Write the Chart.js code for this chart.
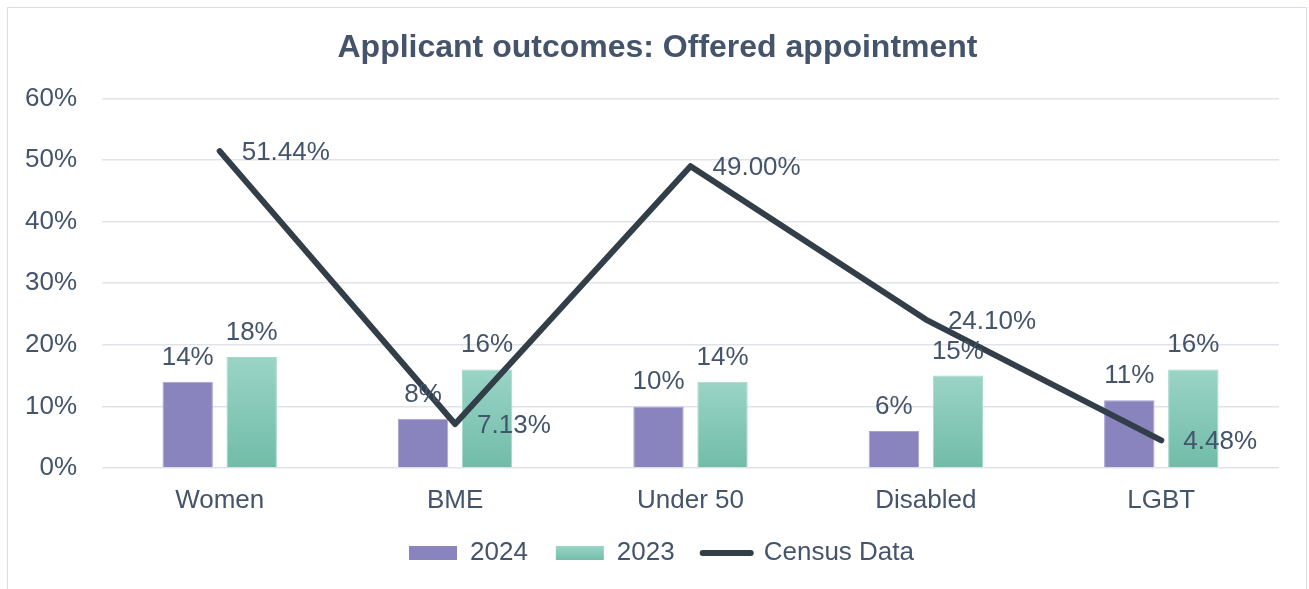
<!DOCTYPE html>
<html>
<head>
<meta charset="utf-8">
<script src="https://cdn.jsdelivr.net/npm/chart.js@4.4.1/dist/chart.umd.min.js"></script>
<style>
  html, body { margin: 0; padding: 0; background: #fff; }
  #wrap { position: relative; width: 1309px; height: 589px; overflow: hidden; }
  #frame { position: absolute; left: 7px; top: 7px; width: 1300px; height: 620px; border: 1.5px solid #D9DEE4; box-sizing: border-box; }
  canvas { position: absolute; left: 0; top: 0; }
</style>
</head>
<body>
<div id="wrap">
  <div id="frame"></div>
  <canvas id="chart" width="1309" height="589"></canvas>
</div>
<script>
const categories = ['Women', 'BME', 'Under 50', 'Disabled', 'LGBT'];
const values2024 = [14, 8, 10, 6, 11];
const values2023 = [18, 16, 14, 15, 16];
const censusData = [51.44, 7.13, 49.00, 24.10, 4.48];
const seriesNames = ['2024', '2023', 'Census Data'];

const textColor = '#44546A';
const fontFamily = '"Liberation Sans", Arial, sans-serif';
const purple = '#8A84BE';
const lineColor = '#323E48';

const tealGradient = (ctx, top, bottom) => {
    const g = ctx.createLinearGradient(0, top, 0, bottom);
    g.addColorStop(0, '#9AD4C7');
    g.addColorStop(1, '#71BCA8');
    return g;
};

// teal bars fade from light at the top to darker at the base
const tealFill = (c) => {
    const chart = c.chart;
    if (c.type !== 'data' || !chart.chartArea || !chart.scales.y) return '#86C8B8';
    const y = chart.scales.y;
    const top = y.getPixelForValue(c.raw);
    const base = y.getPixelForValue(0);
    if (!isFinite(top) || !isFinite(base) || top === base) return '#86C8B8';
    return tealGradient(chart.ctx, top, base);
};

// draws the % labels above bars and to the right of line points
const valueLabels = {
    id: 'valueLabels',
    afterDatasetsDraw(chart) {
        const ctx = chart.ctx;
        ctx.save();
        ctx.font = '26px ' + fontFamily;
        ctx.fillStyle = textColor;
        ctx.textBaseline = 'alphabetic';
        chart.data.datasets.forEach((ds, i) => {
            const meta = chart.getDatasetMeta(i);
            meta.data.forEach((el, j) => {
                const v = ds.data[j];
                if (ds.type === 'line') {
                    ctx.textAlign = 'left';
                    ctx.fillText(v.toFixed(2) + '%', el.x + 22, el.y + 9);
                } else {
                    ctx.textAlign = 'center';
                    ctx.fillText(v + '%', el.x, el.y - 17);
                }
            });
        });
        ctx.restore();
    }
};

// title and legend sit a little right of the plot centre in the original
const blockShift = {
    id: 'blockShift',
    afterLayout(chart) {
        chart.legend.left += 22;
        chart.legend.right += 22;
        chart.titleBlock.left += 18;
        chart.titleBlock.right += 18;
    }
};

const chartEl = document.querySelector('#chart');
new Chart(chartEl.getContext('2d'), {
    type: 'bar',
    data: {
        labels: categories,
        datasets: [
            {
                label: seriesNames[0],
                data: values2024,
                backgroundColor: purple,
                borderColor: '#A7A2D3',
                borderWidth: 1,
                categoryPercentage: 0.544,
                barPercentage: 0.787,
                order: 2
            },
            {
                label: seriesNames[1],
                data: values2023,
                backgroundColor: tealFill,
                borderColor: '#A4D8CC',
                borderWidth: 1,
                categoryPercentage: 0.544,
                barPercentage: 0.787,
                order: 2
            },
            {
                type: 'line',
                label: seriesNames[2],
                data: censusData,
                borderColor: lineColor,
                backgroundColor: lineColor,
                borderWidth: 6,
                borderCapStyle: 'round',
                borderJoinStyle: 'round',
                pointRadius: 0,
                tension: 0,
                order: 1
            }
        ]
    },
    options: {
        responsive: false,
        animation: false,
        layout: { padding: { left: 0, right: 30, top: 0, bottom: 13 } },
        plugins: {
            tooltip: { enabled: false },
            title: {
                display: true,
                text: 'Applicant outcomes: Offered appointment',
                color: textColor,
                font: { family: fontFamily, size: 32, weight: 'bold' },
                padding: { top: 29, bottom: 31 }
            },
            legend: {
                position: 'bottom',
                labels: {
                    color: textColor,
                    font: { family: fontFamily, size: 26 },
                    usePointStyle: true,
                    pointStyleWidth: 48,
                    boxHeight: 14,
                    padding: 28,
                    generateLabels: (chart) => {
                        const items = Chart.defaults.plugins.legend.labels.generateLabels(chart);
                        items.sort((a, b) => a.datasetIndex - b.datasetIndex);
                        items.forEach((item) => {
                            const i = item.datasetIndex;
                            if (i === 2) {
                                item.pointStyle = 'line';
                                item.strokeStyle = lineColor;
                                item.lineWidth = 6;
                                item.lineCap = 'round';
                            } else {
                                item.pointStyle = 'rect';
                                item.lineWidth = 0;
                                item.fillStyle = i === 0 ? purple : tealGradient(chart.ctx, 546, 561);
                            }
                        });
                        return items;
                    }
                }
            }
        },
        scales: {
            x: {
                afterFit: (s) => { s.height = 44; },
                grid: { display: false, drawTicks: false },
                border: { display: false },
                ticks: { color: textColor, font: { family: fontFamily, size: 26 }, padding: 17 }
            },
            y: {
                min: 0,
                max: 60,
                afterFit: (s) => { s.width = 102; },
                grid: { color: '#E0E4EA', lineWidth: 1.5, drawTicks: false },
                border: { display: false },
                ticks: {
                    stepSize: 10,
                    padding: 25,
                    color: textColor,
                    font: { family: fontFamily, size: 26 },
                    callback: (v) => v + '%'
                }
            }
        }
    },
    plugins: [valueLabels, blockShift]
});
</script>
</body>
</html>
